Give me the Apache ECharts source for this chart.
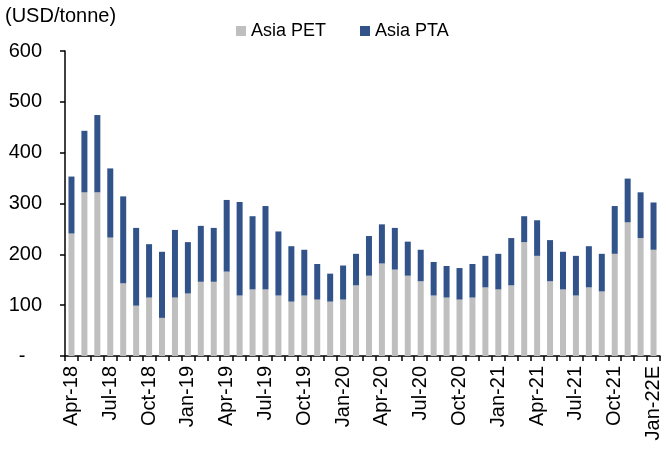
<!DOCTYPE html>
<html>
<head>
<meta charset="utf-8">
<script src="https://cdn.jsdelivr.net/npm/echarts@6/dist/echarts.min.js"></script>
<style>
  html, body { margin: 0; padding: 0; background: #fff; }
  #chart { width: 666px; height: 450px; }
</style>
</head>
<body>
<div id="chart"></div>
<script>
// months Apr-18 .. Jan-22E
var months = ['Apr-18', 'May-18', 'Jun-18', 'Jul-18', 'Aug-18', 'Sep-18', 'Oct-18', 'Nov-18', 'Dec-18',
  'Jan-19', 'Feb-19', 'Mar-19', 'Apr-19', 'May-19', 'Jun-19', 'Jul-19', 'Aug-19', 'Sep-19', 'Oct-19', 'Nov-19', 'Dec-19',
  'Jan-20', 'Feb-20', 'Mar-20', 'Apr-20', 'May-20', 'Jun-20', 'Jul-20', 'Aug-20', 'Sep-20', 'Oct-20', 'Nov-20', 'Dec-20',
  'Jan-21', 'Feb-21', 'Mar-21', 'Apr-21', 'May-21', 'Jun-21', 'Jul-21', 'Aug-21', 'Sep-21', 'Oct-21', 'Nov-21', 'Dec-21',
  'Jan-22E']

// spreads, USD/tonne
var asiaPET = [241, 322, 322, 233, 143, 99, 115, 75, 115,
  123, 146, 146, 166, 119, 131, 131, 119, 107, 119, 111, 107,
  111, 139, 158, 182, 170, 158, 147, 119, 115, 111, 115, 135,
  131, 139, 224, 197, 147, 131, 119, 135, 127, 201, 263, 232,
  209]
var asiaPTA = [112, 121, 152, 136, 171, 153, 105, 130, 133,
  101, 110, 106, 141, 184, 144, 164, 126, 109, 90, 70, 55,
  67, 62, 78, 77, 82, 67, 62, 66, 62, 62, 66, 62,
  70, 93, 51, 70, 81, 74, 78, 81, 74, 94, 86, 90,
  93]

var yTicks = [0, 100, 200, 300, 400, 500, 600]

var chart = echarts.init(document.getElementById('chart'))
chart.setOption({
  animation: false,
  textStyle: { fontFamily: 'Liberation Sans, Arial, sans-serif' },
  graphic: [
    {
      type: 'text',
      left: 5,
      top: 6,
      style: { text: '(USD/tonne)', fontSize: 20, fill: '#000', fontFamily: 'Liberation Sans' }
    }
  ],
  legend: {
    top: 17,
    left: 231,
    itemWidth: 10,
    itemHeight: 10,
    itemGap: 34,
    icon: 'rect',
    textStyle: { fontSize: 18, color: '#000' },
    data: ['Asia PET', 'Asia PTA']
  },
  grid: {
    left: 65,
    right: 6,
    top: 51,
    bottom: 94
  },
  xAxis: {
    type: 'category',
    data: months,
    axisLine: { lineStyle: { color: '#000', width: 1.5 } },
    axisTick: { show: true, interval: 0, length: 5, lineStyle: { color: '#000', width: 1.5 } },
    axisLabel: {
      interval: 2,
      rotate: 90,
      color: '#000',
      fontSize: 20,
      margin: 10
    }
  },
  yAxis: {
    type: 'value',
    min: 0,
    max: 600,
    interval: 100,
    splitLine: { show: false },
    axisLine: { show: true, lineStyle: { color: '#000', width: 1.5 } },
    axisTick: { show: true, length: 5, lineStyle: { color: '#000', width: 1.5 } },
    axisLabel: {
      color: '#000',
      fontSize: 20,
      margin: 23,
      formatter: function (v) {
        return v === yTicks[0] ? '-   ' : String(v)
      }
    }
  },
  series: [
    {
      name: 'Asia PET',
      type: 'bar',
      stack: 'spread',
      barWidth: 6,
      itemStyle: { color: '#BFBFBF' },
      data: asiaPET
    },
    {
      name: 'Asia PTA',
      type: 'bar',
      stack: 'spread',
      barWidth: 6,
      itemStyle: { color: '#31538A' },
      data: asiaPTA
    }
  ]
})
</script>
</body>
</html>
